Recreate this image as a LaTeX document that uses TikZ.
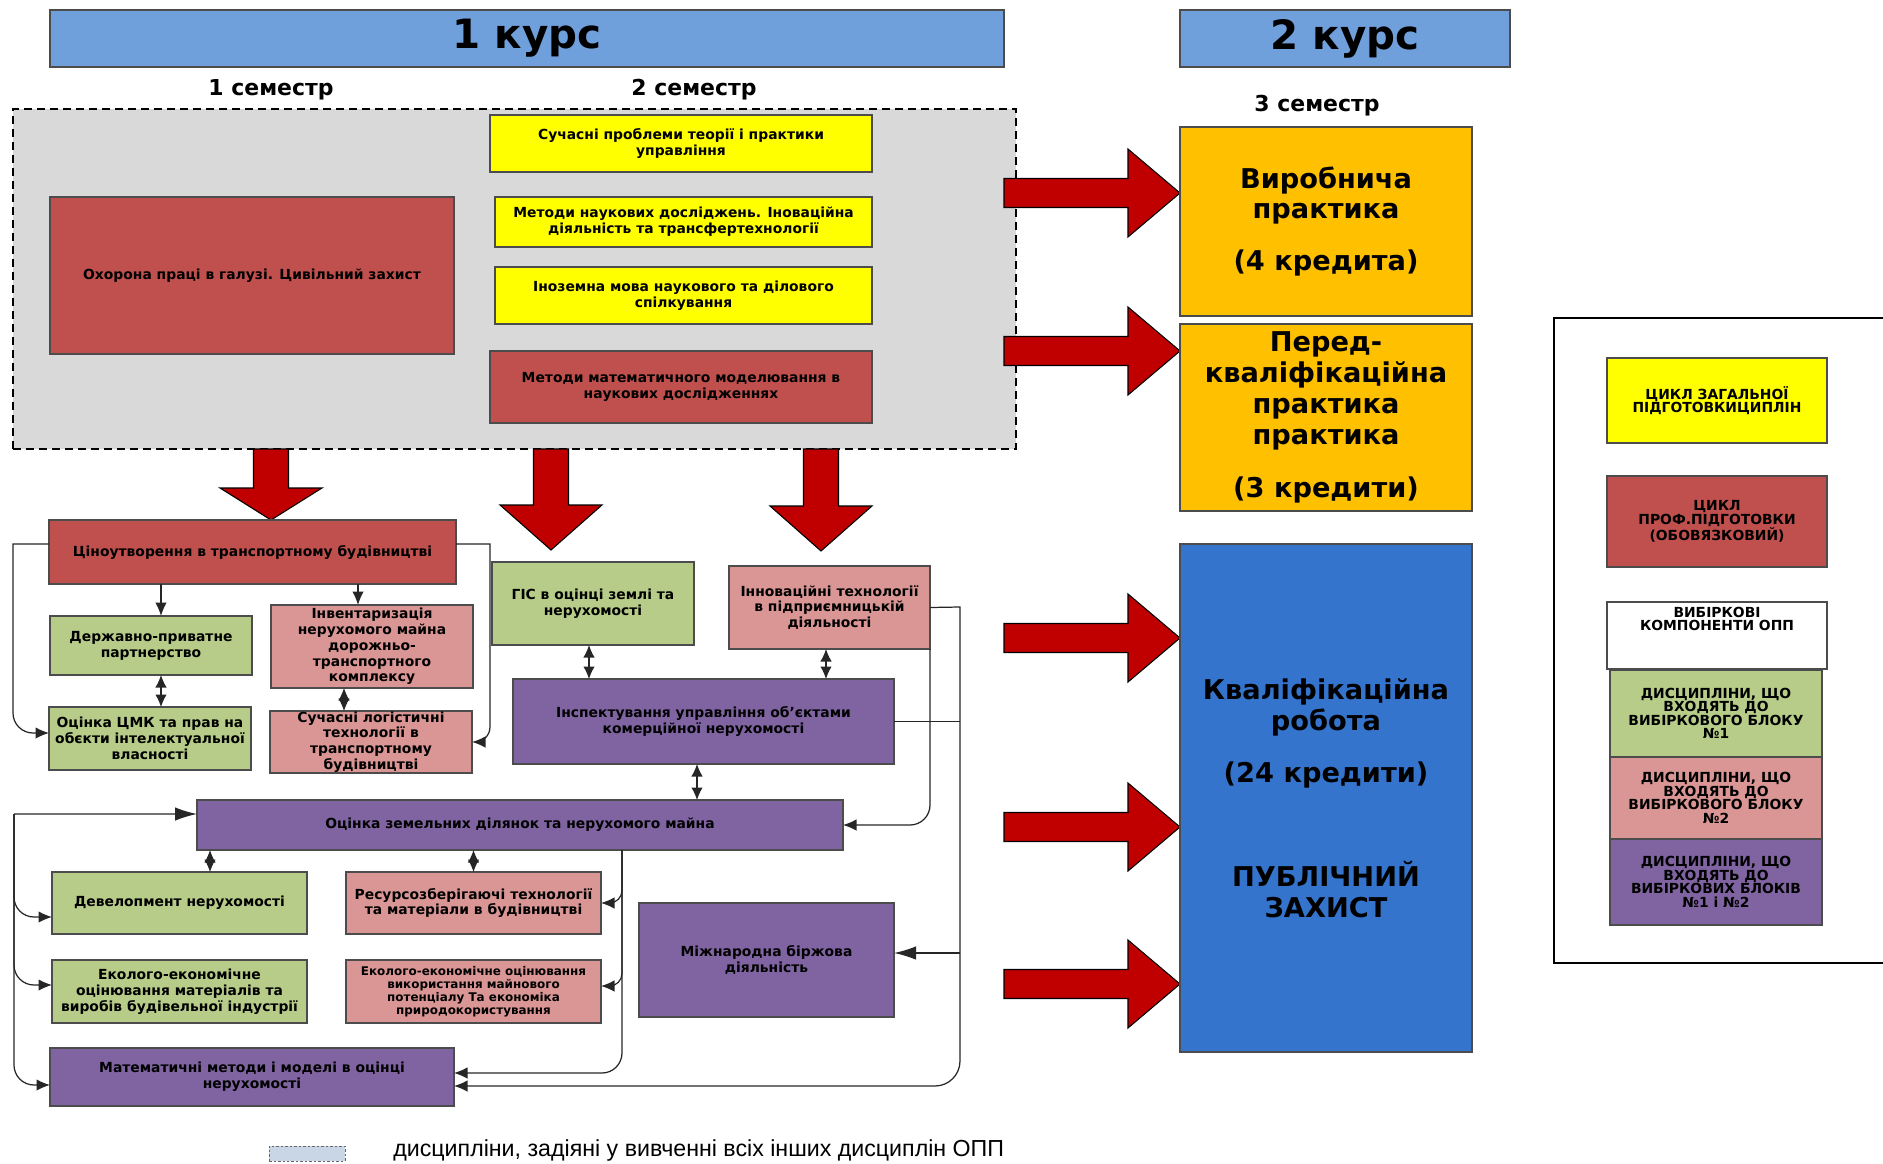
\documentclass[tikz,border=0pt]{standalone}
\usepackage{fontspec}
\setmainfont{DejaVu Sans}
\newfontfamily\notefont{Liberation Sans}
\usepackage{tikz}
\usetikzlibrary{positioning, arrows.meta}
\definecolor{hdrblue}{RGB}{112, 160, 220}
\definecolor{zonegray}{RGB}{217, 217, 217}
\definecolor{genyellow}{RGB}{255, 255, 0}
\definecolor{profred}{RGB}{192, 80, 77}
\definecolor{blkgreen}{RGB}{183, 204, 136}
\definecolor{blkpink}{RGB}{217, 150, 148}
\definecolor{blkviolet}{RGB}{128, 100, 162}
\definecolor{practorange}{RGB}{255, 192, 0}
\definecolor{finalblue}{RGB}{52, 116, 204}
\definecolor{arrowred}{RGB}{192, 0, 0}
\definecolor{notegray}{RGB}{201, 214, 230}
\tikzset{
    wh/.style 2 args={minimum width=#1*0.02cm, minimum height=#2*0.02cm},
    box/.style={draw=black!70, line width=0.6pt, inner sep=0pt, outer sep=0pt, align=center, font=\fontsize{7.9}{9}\selectfont\bfseries},
    gennode/.style={box, fill=genyellow},
    profnode/.style={box, fill=profred},
    grnnode/.style={box, fill=blkgreen},
    pnknode/.style={box, fill=blkpink},
    vionode/.style={box, fill=blkviolet},
    practnode/.style={box, fill=practorange, font=\fontsize{15.5}{17.6}\selectfont\bfseries},
    finalnode/.style={box, fill=finalblue, font=\fontsize{15.5}{17.6}\selectfont\bfseries},
    course/.style={box, fill=hdrblue, font=\fontsize{23}{27}\selectfont\bfseries},
    semlabel/.style={font=\fontsize{12.5}{14}\selectfont\bfseries, inner sep=0pt},
    zone/.style={fill=zonegray, draw=black, line width=0.8pt, dash pattern=on 0.16cm off 0.1cm, inner sep=0pt},
    legnode/.style={box, font=\fontsize{7.9}{7.7}\selectfont\bfseries},
    line/.style={draw=black!85, line width=0.7pt},
    arr/.style={line, -{Latex[length=0.27cm, width=0.23cm]}},
    bigarr/.style={line, -{Latex[length=0.44cm, width=0.27cm]}},
    darr/.style={line, {Latex[length=0.25cm, width=0.23cm]}-{Latex[length=0.25cm, width=0.23cm]}},
    blockarrow/.style={fill=arrowred, draw=black, line width=0.6pt, line join=miter}
}

\begin{document}
\begin{tikzpicture}[x=0.02cm, y=-0.02cm]
    \useasboundingbox (0,0) rectangle (1883,1163);

    \node[course, wh={954}{57}] (kurs1) at (527,38.5) {1 курс};
    \node[course, wh={330}{57}] (kurs2) at (1345,38.5) {2 курс};
    \node[semlabel] (sem1) at (271,90) {1 семестр};
    \node[semlabel] (sem2) at (694,90) {2 семестр};
    \node[semlabel] (sem3) at (1317,106) {3 семестр};

    % common disciplines
    \node[zone, wh={1003}{340}] (common) at (514.5,279) {};
    \node[profnode, wh={404}{157}] (ohorona) at (252,275.5) {Охорона праці в галузі. Цивільний захист};
    \node[gennode, wh={382}{57}] (suchasni) at (681,143.5) {Сучасні проблеми теорії і практики\\управління};
    \node[gennode, wh={377}{50}] (metody) at (683.5,222) {Методи наукових досліджень. Іноваційна\\діяльність та трансфертехнології};
    \node[gennode, wh={377}{57}] (inozemna) at (683.5,295.5) {Іноземна мова наукового та ділового\\спілкування};
    \node[profnode, wh={382}{72}] (matmod) at (681,387) {Методи математичного моделювання в\\наукових дослідженнях};

    \foreach \xx/\yb/\yc in {271/488/520, 551/505/550, 821/506/551}
        \draw[blockarrow] (\xx-17.5,449) -- (\xx-17.5,\yb) -- (\xx-51,\yb) -- (\xx,\yc)
            -- (\xx+51,\yb) -- (\xx+17.5,\yb) -- (\xx+17.5,449) -- cycle;
    \foreach \yy in {193, 351, 638, 827, 984}
        \draw[blockarrow] (1004,\yy-14.5) -- (1128,\yy-14.5) -- (1128,\yy-44) -- (1180,\yy)
            -- (1128,\yy+44) -- (1128,\yy+14.5) -- (1004,\yy+14.5) -- cycle;

    % practice and final work
    \node[practnode, wh={292}{189}] (vyrob) at (1326,221.5) {Виробнича\\практика\\[0.42cm](4 кредита)};
    \node[practnode, wh={292}{187}] (pered) at (1326,417.5) {Перед-\\кваліфікаційна\\практика\\практика\\[0.44cm](3 кредити)};
    \node[finalnode, wh={292}{508}] (kvalif) at (1326,798) {Кваліфікаційна\\робота\\[0.44cm](24 кредити)\\[1.45cm]ПУБЛІЧНИЙ\\ЗАХИСТ};

    % elective blocks
    \node[profnode, wh={407}{64}] (cino) at (252.5,552) {Ціноутворення в транспортному будівництві};
    \node[grnnode, wh={202}{59}] (derzh) at (151,645.5) {Державно-приватне\\партнерство};
    \node[pnknode, wh={202}{83}] (invent) at (372,646.5) {Інвентаризація\\нерухомого майна\\дорожньо-\\транспортного\\комплексу};
    \node[grnnode, wh={202}{63}] (tsmk) at (150,738.5) {Оцінка ЦМК та прав на\\обєкти інтелектуальної\\власності};
    \node[pnknode, wh={202}{62}] (logist) at (371,742) {Сучасні логістичні\\технології в\\транспортному\\будівництві};
    \node[grnnode, wh={202}{83}] (gis) at (593,603.5) {ГІС в оцінці землі та\\нерухомості};
    \node[pnknode, wh={201}{83}] (innov) at (829.5,607.5) {Інноваційні технології\\в підприємницькій\\діяльності};
    \node[vionode, wh={381}{85}] (inspekt) at (703.5,721.5) {Інспектування управління об'єктами\\комерційної нерухомості};
    \node[vionode, wh={646}{50}] (zemli) at (520,825) {Оцінка земельних ділянок та нерухомого майна};
    \node[grnnode, wh={255}{62}] (devel) at (179.5,903) {Девелопмент нерухомості};
    \node[pnknode, wh={255}{62}] (resurs) at (473.5,903) {Ресурсозберігаючі технології\\та матеріали в будівництві};
    \node[grnnode, wh={255}{63}] (ekomat) at (179.5,991.5) {Еколого-економічне\\оцінювання матеріалів та\\виробів будівельної індустрії};
    \node[pnknode, wh={255}{63}, font=\fontsize{6.8}{7.4}\selectfont\bfseries] (ekovyk) at (473.5,991.5) {Еколого-економічне оцінювання\\використання майнового\\потенціалу Та економіка\\природокористування};
    \node[vionode, wh={255}{114}] (mizhn) at (766.5,960) {Міжнародна біржова\\діяльність};
    \node[vionode, wh={404}{58}] (matem) at (252,1077) {Математичні методи і моделі в оцінці\\нерухомості};

    \draw[arr] ([xshift=0.2cm]derzh.north |- cino.south) -- ([xshift=0.2cm]derzh.north);
    \draw[arr] ([xshift=-0.28cm]invent.north |- cino.south) -- ([xshift=-0.28cm]invent.north);
    \draw[darr] ([xshift=0.2cm]derzh.south) -- ([xshift=0.2cm]derzh.south |- tsmk.north);
    \draw[darr] ([xshift=-0.56cm]invent.south) -- ([xshift=-0.56cm]invent.south |- logist.north);
    \draw[arr] ([yshift=0.16cm]cino.west) -- ++(-36,0) [rounded corners=0.4cm] |- ([yshift=0.11cm]tsmk.west);
    \draw[arr] ([yshift=0.16cm]cino.east) -- ++(34,0) [rounded corners=0.3cm] |- (logist.east);

    \draw[darr] ([xshift=-0.08cm]gis.south) -- ([xshift=-0.08cm]gis.south |- inspekt.north);
    \draw[darr] ([xshift=-0.07cm]innov.south) -- ([xshift=-0.07cm]innov.south |- inspekt.north);
    \draw[darr] ([xshift=-0.13cm]inspekt.south) -- ([xshift=-0.13cm]inspekt.south |- zemli.north);
    \draw[arr, rounded corners=0.4cm] (innov.south east) |- (zemli.east);
    \coordinate (rtrunk) at (960,607);
    \draw[arr] (innov.east) -- (rtrunk) [rounded corners=0.5cm] |- ([yshift=-0.18cm]matem.east);
    \draw[line] (inspekt.east) -- (inspekt.east -| rtrunk);
    \draw[bigarr] ([yshift=0.14cm]mizhn.east -| rtrunk) -- ([yshift=0.14cm]mizhn.east);

    \coordinate (ztrunk) at ([xshift=2.04cm]zemli.south);
    \draw[arr, rounded corners=0.4cm] (ztrunk) |- ([yshift=0.08cm]matem.east);
    \draw[arr, rounded corners=0.25cm] (ztrunk) |- (resurs.east);
    \draw[arr, rounded corners=0.25cm] (ztrunk) |- ([yshift=0.11cm]ekovyk.east);
    \draw[darr] ([xshift=0.61cm]devel.north |- zemli.south) -- ([xshift=0.61cm]devel.north);
    \draw[darr] (resurs.north |- zemli.south) -- (resurs.north);

    \coordinate (ltrunk) at (14,814);
    \draw[bigarr] (ltrunk) -- ([yshift=0.22cm]zemli.west);
    \draw[arr, rounded corners=0.4cm] (ltrunk) |- ([yshift=-0.28cm]devel.west);
    \draw[arr, rounded corners=0.4cm] (ltrunk) |- ([yshift=0.13cm]ekomat.west);
    \draw[arr, rounded corners=0.4cm] (ltrunk) |- ([yshift=-0.16cm]matem.west);

    % legend
    \node[draw=black, line width=0.7pt, wh={346}{645}, inner sep=0pt] (legend) at (1727,640.5) {};
    \node[legnode, fill=genyellow, wh={220}{85}] (lgen) at (1717,400.5) {ЦИКЛ ЗАГАЛЬНОЇ\\ПІДГОТОВКИЦИПЛІН};
    \node[legnode, fill=profred, wh={220}{91}] (lprof) at (1717,521.5) {ЦИКЛ\\ПРОФ.ПІДГОТОВКИ\\(ОБОВЯЗКОВИЙ)};
    \node[legnode, fill=white, wh={220}{67}] (lwhite) at (1717,635.5) {};
    \node[legnode, draw=none, below=0.1cm of lwhite.north] (lwhitetxt) {ВИБІРКОВІ\\КОМПОНЕНТИ ОПП};
    \node[legnode, fill=blkgreen, wh={212}{87}] (lgrn) at (1716,713.5) {ДИСЦИПЛІНИ, ЩО\\ВХОДЯТЬ ДО\\ВИБІРКОВОГО БЛОКУ\\№1};
    \node[legnode, fill=blkpink, wh={212}{82}] (lpnk) at (1716,798) {ДИСЦИПЛІНИ, ЩО\\ВХОДЯТЬ ДО\\ВИБІРКОВОГО БЛОКУ\\№2};
    \node[legnode, fill=blkviolet, wh={212}{86}] (lvio) at (1716,882) {ДИСЦИПЛІНИ, ЩО\\ВХОДЯТЬ ДО\\ВИБІРКОВИХ БЛОКІВ\\№1 і №2};

    \node[fill=notegray, draw=black!60, dash pattern=on 0.05cm off 0.04cm, line width=0.5pt, wh={76}{15}, inner sep=0pt] (noteswatch) at (307,1153.5) {};
    \node[anchor=west, inner sep=0pt, font=\notefont\fontsize{13.2}{15}\selectfont] (notetxt) at (393,1150) {дисципліни, задіяні у вивченні всіх інших дисциплін ОПП};
\end{tikzpicture}
\end{document}
